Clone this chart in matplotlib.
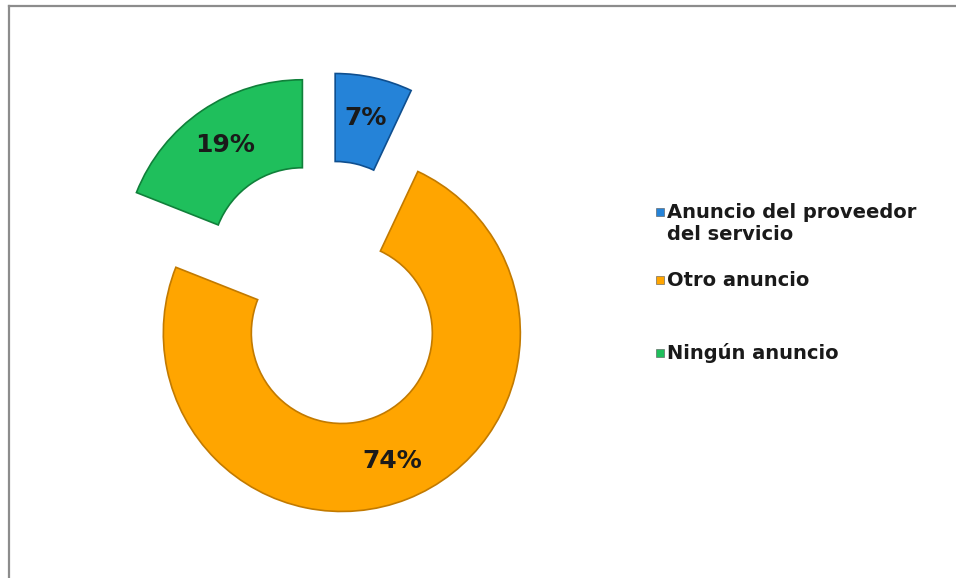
import matplotlib.pyplot as plt
from matplotlib.lines import Line2D

# Survey shares by type of ad seen
categorias = ['Anuncio del proveedor\ndel servicio', 'Otro anuncio', 'Ningún anuncio']
porcentajes = [7, 74, 19]
colores = ['#2583d8', '#ffa500', '#1fbf5c']
bordes = ['#0f4f8f', '#c27a00', '#10803a']

fig = plt.figure(figsize=(9.56, 5.78), dpi=100)
ax = fig.add_axes([0, 0, 1, 1])

# Exploded doughnut, drawn in pixel-like data units
wedges, textos, pcts = ax.pie(
    porcentajes,
    colors=colores,
    startangle=90,
    counterclock=False,
    center=(326, 285),
    radius=178.5,
    explode=[42, 43, 42],
    autopct='%d%%',
    pctdistance=0.77,
    wedgeprops=dict(width=88),
    textprops=dict(fontsize=18, fontweight='bold', color='#1a1a1a'),
)
for w, b in zip(wedges, bordes):
    w.set_edgecolor(b)
    w.set_linewidth(1.2)

ax.set_xlim(0, 956)
ax.set_ylim(0, 578)
ax.set_aspect('equal')
ax.axis('off')

# Legend drawn by hand to keep the uneven spacing
leg_y = [366, 298, 225]
text_y = [355, 298, 225]
for c, ly, ty, lab in zip(colores, leg_y, text_y, categorias):
    ax.scatter([660], [ly], marker='s', s=40, color=c, edgecolors='#555555', linewidths=0.4)
    ax.text(667, ty, lab, fontsize=14, fontweight='bold', color='#1a1a1a',
            ha='left', va='center', linespacing=1.2)

# Chart frame (top and left edges)
fig.add_artist(Line2D([9 / 956, 9 / 956], [0, 1 - 6 / 578], transform=fig.transFigure,
                      color='#8c8c8c', lw=1.6))
fig.add_artist(Line2D([9 / 956, 1], [1 - 6 / 578, 1 - 6 / 578], transform=fig.transFigure,
                      color='#8c8c8c', lw=1.6))

fig.savefig('out.png', dpi=100)
